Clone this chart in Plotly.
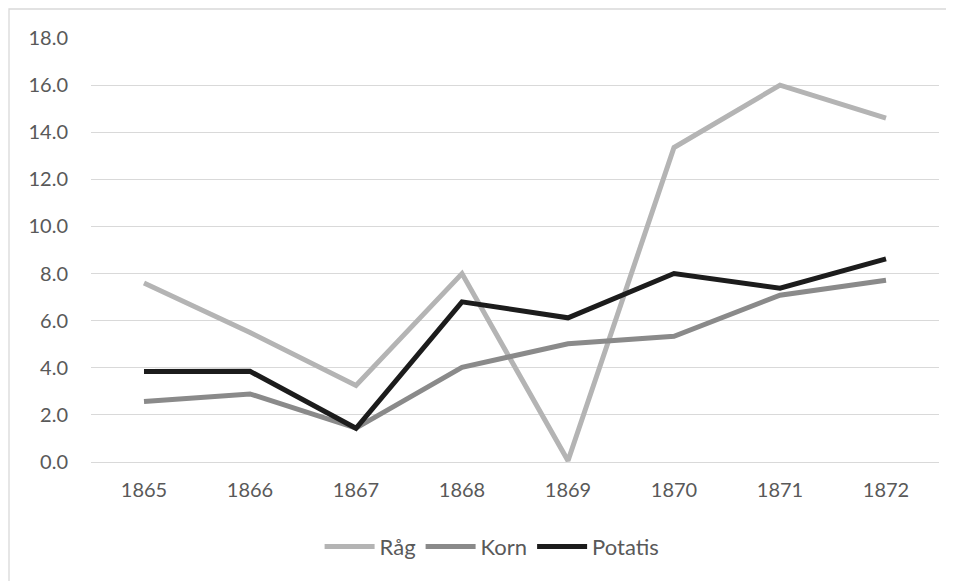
import plotly.graph_objects as go

years = ["1865", "1866", "1867", "1868", "1869", "1870", "1871", "1872"]
rag = [7.6, 5.5, 3.25, 8.0, 0.05, 13.35, 16.0, 14.6]
korn = [2.57, 2.89, 1.44, 4.02, 5.02, 5.34, 7.08, 7.72]
potatis = [3.84, 3.85, 1.43, 6.8, 6.12, 8.0, 7.38, 8.62]
y_ticks = [0, 2, 4, 6, 8, 10, 12, 14, 16, 18]

series = [
    ("Råg", rag, "#b4b4b4"),
    ("Korn", korn, "#8a8a8a"),
    ("Potatis", potatis, "#1c1c1c"),
]

fig = go.Figure()
for name, vals, col in series:
    fig.add_trace(go.Scatter(
        x=years, y=vals, name=name, mode="lines",
        line=dict(color=col, width=5),
    ))

# page body has an 8px margin, so the figure is drawn 8px smaller and offset
OFF = 8
W, H = 954 - OFF, 581 - OFF
L, R, T, B = 91 - OFF, 15, 38 - OFF, 119
pw, ph = W - L - R, H - T - B

fig.update_layout(
    width=W, height=H,
    margin=dict(l=L, r=R, t=T, b=B),
    paper_bgcolor="white", plot_bgcolor="white",
    font=dict(family="Lato, Noto Sans, sans-serif", size=20, color="#595959"),
    showlegend=True,
    legend=dict(
        orientation="h", x=0.473, xanchor="center", y=-0.2, yanchor="middle",
        font=dict(size=22, color="#595959"), itemwidth=50,
        traceorder="normal",
    ),
    xaxis=dict(
        type="category", range=[-0.5, 7.5], showgrid=False, zeroline=False,
        showline=True, linecolor="#d9d9d9", linewidth=1, ticks="",
        tickfont=dict(size=20, color="#595959"), ticklabelstandoff=10,
    ),
    yaxis=dict(
        range=[0, 18], tickvals=y_ticks, tickformat=".1f",
        showgrid=True, gridcolor="#d9d9d9", gridwidth=1.3,
        zeroline=False, showline=False, ticks="",
        tickfont=dict(size=20, color="#595959"), ticklabelstandoff=22,
    ),
    shapes=[dict(
        type="rect", xref="paper", yref="paper",
        x0=(1 - L) / pw, x1=(W + 10 - L) / pw,
        y0=-(H + 10 - T - ph) / ph, y1=1 + (T - 1) / ph,
        line=dict(color="#d9d9d9", width=1.3), fillcolor="rgba(0,0,0,0)",
        layer="below",
    )],
)

fig.write_html("out.html")
